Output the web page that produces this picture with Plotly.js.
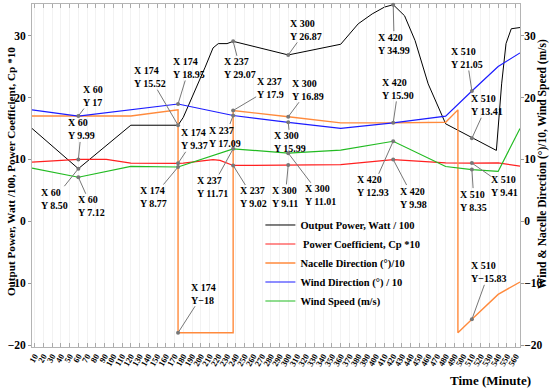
<!DOCTYPE html>
<html>
<head>
<meta charset="utf-8">
<script src="https://cdn.plot.ly/plotly-3.0.1.min.js"></script>
<style>
  html, body { margin: 0; padding: 0; background: #fff; }
  #chart { width: 550px; height: 389px; }
</style>
</head>
<body>
<div id="chart"></div>
<script>
// series values (time in minutes)
var powerX = [7, 60, 120, 174, 180, 192, 205, 214, 220, 230, 237, 300, 360, 380, 396, 410, 420, 433, 445, 460, 473, 480, 538, 544, 549, 555, 565];
var powerY = [15.0, 8.5, 15.52, 15.52, 16.8, 20.6, 24.9, 28.0, 28.7, 28.7, 29.07, 26.87, 28.6, 31.9, 33.5, 34.6, 34.99, 33.2, 29.2, 22.2, 17.9, 15.75, 11.45, 22.2, 28.7, 31.1, 31.3];

var cpX = [7, 60, 92, 120, 174, 180, 214, 222, 237, 300, 360, 420, 480, 510, 540, 565];
var cpY = [9.56, 9.99, 10.0, 9.4, 9.37, 9.4, 9.95, 9.85, 9.02, 9.11, 9.15, 9.98, 9.45, 9.41, 9.45, 8.9];

var nacelleX = [7, 60, 120, 174, 174, 237, 237, 300, 360, 420, 480, 494, 494, 510, 540, 565];
var nacelleY = [17.0, 17.0, 17.0, 18.0, -18, -18, 17.9, 16.89, 15.9, 15.9, 16.0, 18.0, -18, -15.83, -11.8, -9.8];

var windDirX = [7, 60, 174, 237, 300, 360, 420, 480, 510, 540, 565];
var windDirY = [18.0, 17.0, 18.95, 17.09, 15.99, 15.0, 15.9, 17.0, 21.05, 25.0, 27.2];

var windSpdX = [7, 60, 120, 174, 237, 300, 360, 420, 480, 510, 540, 565];
var windSpdY = [8.6, 7.12, 8.87, 8.77, 11.71, 11.01, 11.5, 12.93, 8.85, 8.35, 8.06, 15.0];

var seriesNames = ['Output Power, Watt / 100', ' Power Coefficient, Cp *10', 'Nacelle Direction (\u00b0)/10', 'Wind Direction (\u00b0) / 10', 'Wind Speed (m/s)'];

// data tips
var tipX = [60, 60, 174, 174, 237, 237, 174, 237, 174, 237, 237, 60, 60, 300, 420, 300, 420, 510, 510, 300, 420, 420, 300, 300, 510, 510, 174, 510];
var tipY = ['17', '9.99', '15.52', '18.95', '29.07', '17.9', '9.37', '17.09', '8.77', '11.71', '9.02', '8.50', '7.12', '26.87', '34.99', '16.89', '15.90', '21.05', '13.41', '15.99', '12.93', '9.98', '9.11', '11.01', '9.41', '8.35', '-18', '-15.83'];
// centre of each tip label, as a pixel offset from its point
var tipPos = [[15, -20], [3, -30], [-28, -48], [11, -36], [7, 27], [37, -22], [16, -24], [-8, 21], [-25, 30], [-21, 38],
              [20, 32], [-24, 30], [13, 29], [18, -25], [1, 39], [20, -27], [5, -34], [-5, -33], [15, -33], [2, 20],
              [-20, 45], [20, 38], [-3, 32], [32, 42], [33, 23], [2, 31], [25, -39], [17, -47]];

var serif = 'Liberation Serif, Times New Roman, serif';

function line(x, y, name, color, width, yaxis) {
  return {x: x, y: y, name: name, type: 'scatter', mode: 'lines', yaxis: yaxis,
    line: {color: color, width: width}};
}

var data = [
  line(powerX, powerY, seriesNames[0], '#000000', 1, 'y'),
  line(cpX, cpY, seriesNames[1], '#ff2020', 1.2, 'y'),
  line(nacelleX, nacelleY, seriesNames[2], '#ff8a3c', 1.4, 'y2'),
  line(windDirX, windDirY, seriesNames[3], '#1c1cff', 1.2, 'y2'),
  line(windSpdX, windSpdY, seriesNames[4], '#22bb22', 1.2, 'y2')
];

var annotations = [];
for (var i = 0; i < tipX.length; i++) {
  var yv = Number(tipY[i]);
  var yLabel = yv < 0 ? 'Y\u2212' + tipY[i].slice(1) : 'Y ' + tipY[i];
  annotations.push({
    x: tipX[i], y: yv, xref: 'x', yref: 'y',
    text: 'X ' + tipX[i] + '<br>' + yLabel,
    align: 'left', showarrow: true, arrowhead: 6, arrowsize: 1, arrowwidth: 1,
    arrowcolor: '#777777', standoff: 0, borderpad: 0,
    ax: tipPos[i][0], ay: tipPos[i][1],
    font: {family: serif, size: 10, color: '#000', weight: 'bold'}
  });
}
annotations.push({
  text: 'Output Power, Watt /100, Power Coefficient, Cp *10', textangle: -90,
  xref: 'paper', yref: 'paper', x: -0.043, y: 0.51, xanchor: 'center', yanchor: 'middle',
  showarrow: false, font: {family: serif, size: 11.2, weight: 'bold'}
});
annotations.push({
  text: 'Wind & Nacelle Direction (\u00b0)/10, Wind Speed (m/s)', textangle: -90,
  xref: 'paper', yref: 'paper', x: 1.046, y: 0.535, xanchor: 'center', yanchor: 'middle',
  showarrow: false, font: {family: serif, size: 11.5, weight: 'bold'}
});
annotations.push({
  text: 'Time (Minute)',
  xref: 'paper', yref: 'paper', x: 0.939, y: -0.098, xanchor: 'center', yanchor: 'middle',
  showarrow: false, font: {family: serif, size: 13, weight: 'bold'}
});

var yCommon = {
  range: [-20.3, 35.1], dtick: 10, tick0: 0, ticks: 'outside', ticklen: 3, tickcolor: '#999',
  showline: true, linecolor: '#b4b4b4', linewidth: 1, zeroline: false, showgrid: false,
  tickfont: {family: serif, size: 11.5, color: '#000', weight: 'bold'}
};

var layout = {
  width: 550, height: 389,
  margin: {l: 32, r: 30, t: 3.5, b: 41.5},
  paper_bgcolor: '#fff', plot_bgcolor: '#fff',
  font: {family: serif, size: 12, color: '#000', weight: 'bold'},
  showlegend: true,
  legend: {
    x: 0.468, y: 0.398, xanchor: 'left', yanchor: 'top',
    bgcolor: 'rgba(255,255,255,0)', itemwidth: 30, tracegroupgap: 0,
    font: {family: serif, size: 10.5, color: '#000', weight: 'bold'}
  },
  xaxis: {
    range: [7, 565], tick0: 10, dtick: 10, tickangle: -60,
    ticks: 'inside', ticklen: 4, tickcolor: '#aaa', mirror: 'ticks',
    showline: true, linecolor: '#b4b4b4', linewidth: 1,
    showgrid: true, gridcolor: '#f2f2f2', zeroline: false,
    tickfont: {family: serif, size: 8.5, color: '#000', weight: 'bold'}
  },
  yaxis: Object.assign({}, yCommon, {side: 'left'}),
  yaxis2: Object.assign({}, yCommon, {side: 'right', overlaying: 'y', ticklabelstandoff: -2}),
  annotations: annotations
};

Plotly.newPlot('chart', data, layout, {displayModeBar: false, staticPlot: true});
</script>
</body>
</html>
